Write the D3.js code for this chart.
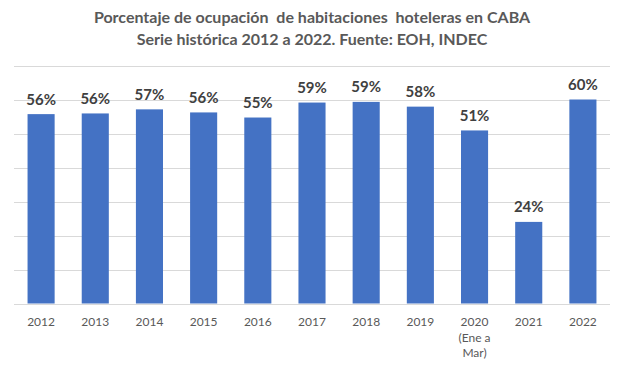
<!DOCTYPE html>
<html><head><meta charset="utf-8">
<script src="https://cdn.jsdelivr.net/npm/d3@7"></script>
<style>body{margin:0;background:#fff}svg{display:block}</style>
</head><body>
<script>
const categories = ["2012","2013","2014","2015","2016","2017","2018","2019","2020\n(Ene a\nMar)","2021","2022"];
const values = [55.7, 55.9, 57.1, 56.2, 54.7, 59.1, 59.3, 57.9, 50.9, 24.0, 60.0];
const labels = ["56%","56%","57%","56%","55%","59%","59%","58%","51%","24%","60%"];
const yTicks = [0,10,20,30,40,50,60,70];
const titleLines = ["Porcentaje de ocupación  de habitaciones  hoteleras en CABA","Serie histórica 2012 a 2022. Fuente: EOH, INDEC"];

const W=627,H=365;
const font="Lato, 'Open Sans', sans-serif";
const svg=d3.select("body").append("svg").attr("width",W).attr("height",H);
const x=d3.scaleBand().domain(categories).range([14,610]).paddingInner(0.5).paddingOuter(0.25);
const y=d3.scaleLinear().domain([0,70]).range([303.5,65.5]);

svg.append("g").selectAll("line").data(yTicks).join("line")
 .attr("x1",14).attr("x2",610).attr("y1",d=>Math.round(y(d))+0.5).attr("y2",d=>Math.round(y(d))+0.5)
 .attr("stroke","#d9d9d9").attr("stroke-width",1);

svg.append("g").selectAll("rect").data(values).join("rect")
 .attr("x",(d,i)=>x(categories[i])).attr("width",x.bandwidth())
 .attr("y",d=>y(d)).attr("height",d=>y(0)-y(d)).attr("fill","#4472c4");

svg.append("g").selectAll("text").data(values).join("text")
 .attr("x",(d,i)=>x(categories[i])+x.bandwidth()/2).attr("y",d=>y(d)-9.5)
 .attr("text-anchor","middle").attr("font-family",font).attr("font-weight","bold")
 .attr("font-size",15).attr("fill","#404040").text((d,i)=>labels[i]);

const xa=svg.append("g");
categories.forEach(c=>{
  const t=xa.append("text").attr("x",x(c)+x.bandwidth()/2).attr("y",326)
   .attr("text-anchor","middle").attr("font-family",font).attr("font-size",12).attr("fill","#595959");
  c.split("\n").forEach((l,j)=>t.append("tspan").attr("x",x(c)+x.bandwidth()/2).attr("dy",j?15.5:0).text(l));
});

svg.append("g").selectAll("text").data(titleLines).join("text")
 .attr("x",312).attr("y",(d,i)=>23+i*22).attr("text-anchor","middle")
 .style("white-space","pre")
 .attr("font-family",font).attr("font-weight","bold").attr("font-size",16).attr("fill","#595959").text(d=>d);
</script>
</body></html>
